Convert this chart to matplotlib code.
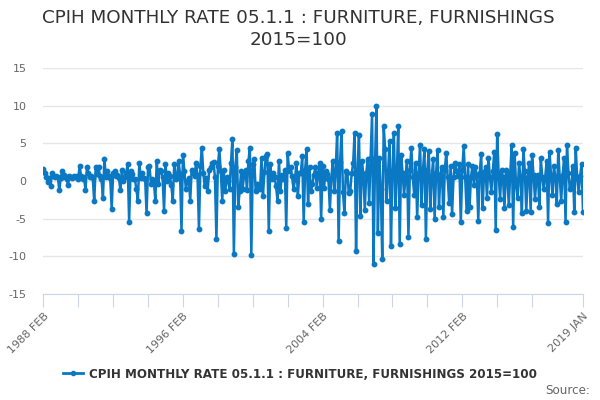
import matplotlib
matplotlib.use("Agg")
import matplotlib.pyplot as plt
import pandas as pd
from matplotlib.lines import Line2D

series_name = "CPIH MONTHLY RATE 05.1.1 : FURNITURE, FURNISHINGS 2015=100"

# monthly values, 1988 FEB .. 2019 JAN
y1988 = [1.6, 1.0, 0.5, -0.1, 0.4, -0.6, 1.0, 0.6, 0.5, 0.7, 0.5]
y1989 = [-1.2, 0.4, 1.3, 0.8, 0.5, 0.3, -0.5, 0.7, 0.5, 0.4, 0.6, 0.5]
y1990 = [0.6, 0.3, 2.0, 0.6, 0.3, 0.5, -1.2, 1.8, 1.1, 0.5, 0.7, 0.4]
y1991 = [-2.7, 1.8, 0.9, 1.8, 0.6, 0.3, -2.2, 2.9, 0.5, 1.3, 0.6, 0.4]
y1992 = [-3.7, 1.0, 1.3, 0.6, 0.8, 0.4, -1.2, 1.5, 0.0, 0.5, 1.0, 2.3]
y1993 = [-5.4, 1.3, 0.9, 0.3, 0.2, -1.1, -2.6, 2.4, 0.4, 1.1, 0.4, 0.3]
y1994 = [-4.3, 1.8, 2.0, -0.4, 0.2, 0.0, -2.6, 2.7, -0.4, 1.5, 1.3, 0.5]
y1995 = [-4.0, 2.2, 0.0, 1.1, 0.6, -0.5, -2.6, 2.2, 0.2, 0.8, 2.6, 0.9]
y1996 = [-6.6, 3.5, 1.3, -1.1, 0.0, 0.4, -2.6, 1.5, 1.1, 0.6, 2.4, 0.8]
y1997 = [-6.4, 2.0, 4.4, 1.0, -0.7, 0.4, -1.3, 1.4, 1.8, 2.4, 2.5, 0.5]
y1998 = [-7.7, 2.0, 4.2, 1.3, -2.6, 1.5, -1.3, 0.5, 0.0, -1.1, 2.4, 5.6]
y1999 = [-9.7, 1.8, 4.1, -3.4, -1.3, 1.3, -1.1, 0.8, 1.5, -1.2, 2.6, 4.4]
y2000 = [-9.8, 2.2, 2.9, -1.3, -0.4, -0.6, -1.1, 3.1, -2.0, 1.2, 3.3, 3.6]
y2001 = [-6.7, 2.2, 0.2, 1.1, 0.5, -0.7, -2.6, 2.7, -1.3, 0.8, 0.2, 1.5]
y2002 = [-6.2, 3.7, 1.3, 1.8, 0.6, -1.1, 0.2, 2.4, -2.0, 1.0, 1.0, 3.3]
y2003 = [-5.5, 1.5, 4.2, -3.1, 1.8, -1.3, -0.4, 0.8, 1.8, -0.9, 1.1, 2.4]
y2004 = [-5.1, 2.0, -0.9, 1.3, 0.9, 0.2, -3.8, 0.4, 2.7, -1.3, 1.5, 6.4]
y2005 = [-8.0, 2.5, 6.6, -1.5, -4.2, 1.3, 1.1, -1.6, -1.3, 1.0, 2.4, 6.4]
y2006 = [-9.3, 1.5, 6.1, -4.7, 2.7, 0.9, -3.8, 1.0, 2.9, -2.9, 3.0, 8.9]
y2007 = [-11.0, 2.0, 9.9, -6.9, 3.0, -1.0, -10.4, 7.3, 4.2, -2.7, 1.0, 5.3]
y2008 = [-8.6, 1.3, 6.4, -3.6, 1.0, 7.3, -8.4, 3.5, 1.0, -1.8, 0.5, 2.6]
y2009 = [-7.4, 1.5, 4.4, 0.5, -1.9, 2.4, -4.8, 1.0, 4.8, -3.2, 1.5, 4.2]
y2010 = [-7.7, 1.5, 4.0, -3.7, 0.5, 2.9, -5.1, 1.0, 4.1, -3.4, 0.8, 1.8]
y2011 = [-4.8, 1.5, 3.7, 0.5, -2.9, 2.0, -4.4, 0.5, 2.4, 1.3, 0.6, 2.2]
y2012 = [-5.5, 1.5, 4.6, 0.5, -4.0, 2.2, -3.5, 0.5, 2.0, -0.5, 1.8, 0.8]
y2013 = [-5.3, 1.0, 3.6, -3.6, 1.2, 1.8, -2.3, 3.1, 0.5, -1.4, 1.3, 3.9]
y2014 = [-6.5, 6.2, 1.0, -2.4, 1.5, 0.5, -3.6, 1.5, 0.5, -3.2, 1.0, 4.8]
y2015 = [-6.1, 3.7, -0.5, -2.2, 2.4, 0.5, -4.2, 4.2, 1.3, -4.0, 0.5, 2.4]
y2016 = [-4.1, 3.4, 0.8, -2.4, 0.4, 0.8, -3.5, 3.0, 0.5, -1.1, 0.5, 2.6]
y2017 = [-5.6, 3.9, 0.8, -1.8, 2.0, 0.5, -3.0, 4.1, 0.5, -2.6, 0.8, 3.0]
y2018 = [-5.5, 4.8, 1.0, -1.1, -0.7, 2.0, -4.1, 4.4, 0.5, -1.5, 0.6, 2.3]
y2019 = [-4.1]

values = (y1988 + y1989 + y1990 + y1991 + y1992 + y1993 + y1994 + y1995 + y1996
          + y1997 + y1998 + y1999 + y2000 + y2001 + y2002 + y2003 + y2004 + y2005
          + y2006 + y2007 + y2008 + y2009 + y2010 + y2011 + y2012 + y2013 + y2014
          + y2015 + y2016 + y2017 + y2018 + y2019)

months = pd.period_range("1988-02", "2019-01", freq="M")
categories = [f"{p.year} {p.strftime('%b').upper()}" for p in months]
label_cats = ["1988 FEB", "1996 FEB", "2004 FEB", "2012 FEB", "2019 JAN"]
y_ticks = [-15, -10, -5, 0, 5, 10, 15]

n = min(len(values), len(categories))
xs = list(range(n))

fig = plt.figure(figsize=(6, 4), dpi=100)
ax = fig.add_axes([43.3 / 600, 1 - 294 / 400, 539.7 / 600, 226 / 400])

color = "#0a78c2"
ax.plot(xs, values[:n], color=color, lw=1.8, marker="o", ms=3.2, zorder=3)

for s in ["top", "right", "left"]:
    ax.spines[s].set_visible(False)
ax.spines["bottom"].set_color("#ccd6eb")

ax.set_xlim(0, len(categories) - 1)
ax.set_ylim(-15, 15)
ax.set_yticks(y_ticks)
ax.set_yticklabels([str(v) for v in y_ticks])
ax.grid(axis="y", color="#e6e6e6", lw=1)
ax.set_axisbelow(True)

tick_pos = list(range(0, len(categories) - 24, 24)) + [len(categories) - 1]
ax.set_xticks(tick_pos)
lab_idx = {categories.index(c): c for c in label_cats}
ax.set_xticklabels([lab_idx.get(p, "") for p in tick_pos])
ax.tick_params(axis="x", length=9, color="#ccd6eb", labelcolor="#666666",
               labelsize=8, pad=3)
ax.tick_params(axis="y", length=0, labelcolor="#666666", labelsize=8, pad=12)
for lab in ax.get_xticklabels():
    lab.set_rotation(45)
    lab.set_ha("right")
    lab.set_va("top")
    lab.set_rotation_mode("anchor")

fig.text(0.497, 1 - 18 / 400, "CPIH MONTHLY RATE 05.1.1 : FURNITURE, FURNISHINGS",
         ha="center", va="center", fontsize=13.2, color="#333333")
fig.text(0.497, 1 - 40 / 400, "2015=100",
         ha="center", va="center", fontsize=13.2, color="#333333")

handle = Line2D([0], [0], color=color, lw=2, marker="o", ms=3)
fig.legend([handle], [series_name], loc="center", bbox_to_anchor=(0.5, 1 - 374 / 400),
           frameon=False, prop={"weight": "bold", "size": 8.6},
           handlelength=1.6, handletextpad=0.5, labelcolor="#333333")

fig.text(0.983, 1 - 391 / 400, "Source:", ha="right", va="center",
         fontsize=8.6, color="#666666")

fig.savefig("out.png", dpi=100)
